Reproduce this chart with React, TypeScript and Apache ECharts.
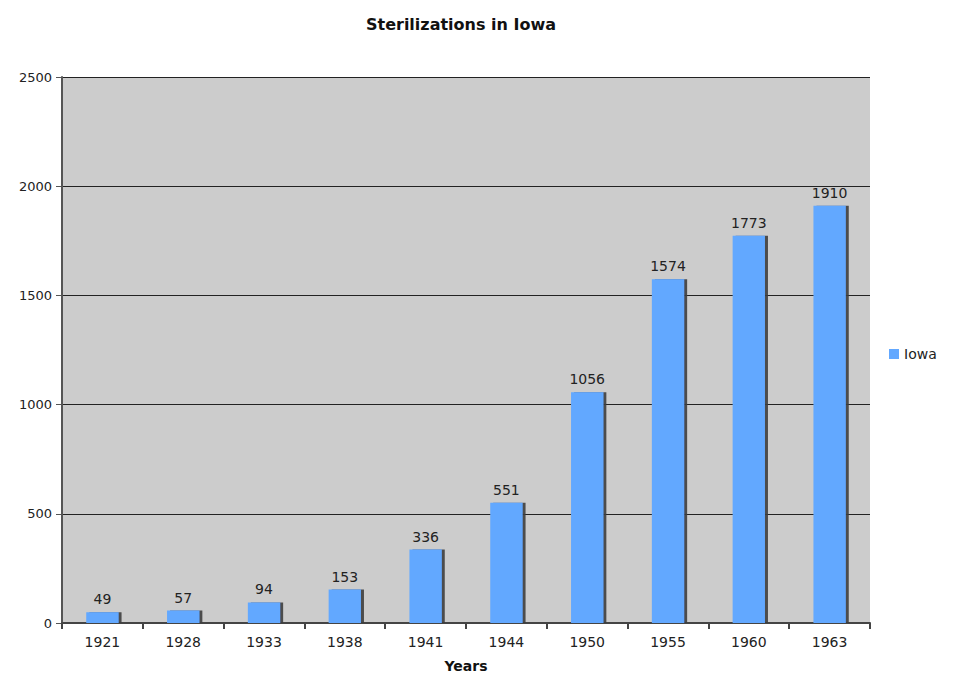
import React, { useEffect, useRef } from "react";
import * as echarts from "echarts";

const years = ["1921", "1928", "1933", "1938", "1941", "1944", "1950", "1955", "1960", "1963"];
const iowa = [49, 57, 94, 153, 336, 551, 1056, 1574, 1773, 1910];

export default function App() {
  const ref = useRef<HTMLDivElement>(null);
  useEffect(() => {
    const chart = echarts.init(ref.current!, null, { renderer: "svg" });
    const font = "'DejaVu Sans', Verdana, sans-serif";
    chart.setOption({
      animation: false,
      backgroundColor: "#ffffff",
      title: {
        text: "Sterilizations in Iowa",
        left: 456,
        textAlign: "center",
        top: 11,
        textStyle: { fontFamily: font, fontSize: 16, fontWeight: "bold", color: "#111" },
      },
      legend: {
        orient: "vertical",
        left: 884,
        top: 342,
        itemWidth: 10,
        itemHeight: 10,
        itemGap: 4,
        textStyle: { fontFamily: font, fontSize: 14, color: "#222" },
        data: [{ name: "Iowa", icon: "rect" }],
      },
      grid: {
        left: 62,
        right: 110,
        top: 77,
        bottom: 56,
        show: true,
        backgroundColor: "#cccccc",
        borderWidth: 0,
      },
      xAxis: {
        type: "category",
        data: years,
        name: "Years",
        nameLocation: "middle",
        nameGap: 36,
        nameTextStyle: { fontFamily: font, fontSize: 14, fontWeight: "bold", color: "#111" },
        axisLine: { lineStyle: { color: "#444", width: 2 } },
        axisTick: { show: true, alignWithLabel: false, length: 6, inside: false, lineStyle: { color: "#444", width: 2 } },
        axisLabel: { fontFamily: font, fontSize: 14, color: "#222", margin: 12 },
        splitLine: { show: false },
      },
      yAxis: {
        type: "value",
        min: 0,
        max: 2500,
        interval: 500,
        axisLine: { show: true, lineStyle: { color: "#555", width: 2 } },
        axisTick: { show: true, length: 6, lineStyle: { color: "#555", width: 1 } },
        axisLabel: { fontFamily: font, fontSize: 13, color: "#222", margin: 10, formatter: (v: number) => String(v) },
        splitLine: { show: true, lineStyle: { color: "#222", width: 1.2 } },
      },
      series: [
        {
          name: "Iowa",
          type: "bar",
          data: iowa,
          barWidth: "40%",
          itemStyle: {
            color: "#62a8ff",
            shadowColor: "rgba(60,60,60,0.9)",
            shadowOffsetX: 3,
            shadowOffsetY: 0,
            shadowBlur: 0,
          },
          label: {
            show: true,
            position: "top",
            distance: 6,
            fontFamily: font,
            fontSize: 14,
            color: "#222",
          },
        },
      ],
    });
    return () => chart.dispose();
  }, []);
  return <div ref={ref} style={{ position: "fixed", left: 0, top: 0, width: 980, height: 679 }} />;
}
